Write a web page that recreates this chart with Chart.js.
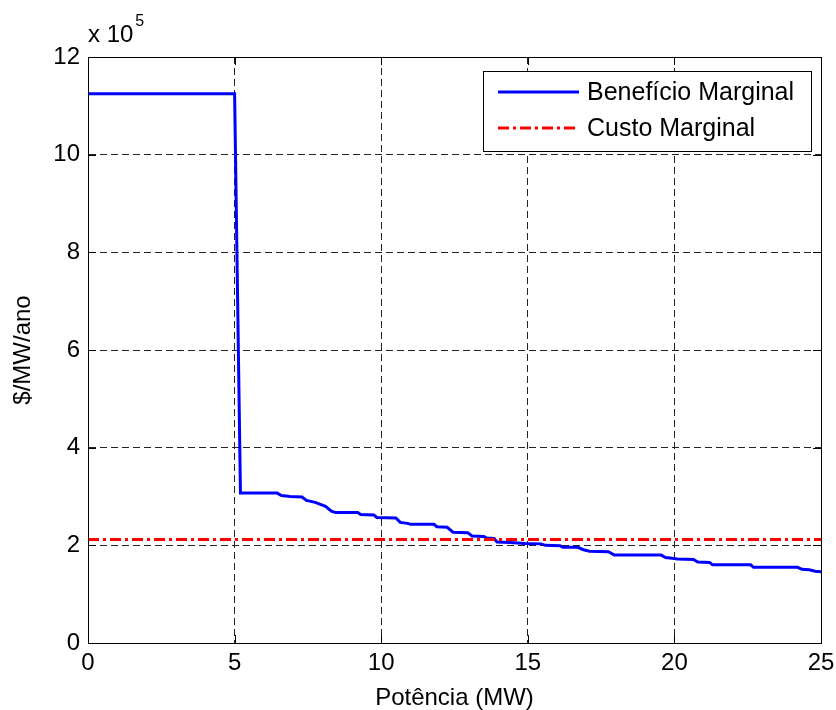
<!DOCTYPE html>
<html>
<head>
<meta charset="utf-8">
<title>Benefício x Custo Marginal</title>
<script src="https://cdn.jsdelivr.net/npm/chart.js@4/dist/chart.umd.min.js"></script>
<style>
  html, body { margin: 0; padding: 0; background: #fff; }
  #wrap { width: 836px; height: 710px; position: relative; }
</style>
</head>
<body>
<div id="wrap"><canvas id="mcChart" width="836" height="710"></canvas></div>
<script>
/* ── Data (y in units of 10^5 $/MW/ano) ── */
const potenciaMW = [
  0, 5.0, 5.2, 6.45, 6.6, 6.9, 7.3, 7.45, 7.75, 8.1, 8.3, 8.45, 9.2, 9.3, 9.75,
  9.85, 10.5, 10.65, 10.9, 11.0, 11.8, 11.9, 12.25, 12.45, 12.95, 13.1, 13.5,
  13.6, 13.85, 13.95, 14.4, 14.9, 15.45, 15.6, 16.1, 16.2, 16.7, 16.9, 17.1,
  17.75, 17.95, 19.55, 19.7, 20.0, 20.1, 20.65, 20.8, 21.2, 21.3, 22.6, 22.7,
  24.2, 24.35, 24.6, 24.8, 25
];
const beneficio = [
  11.25, 11.25, 3.07, 3.07, 3.02, 3.0, 2.99, 2.92, 2.88, 2.8, 2.7, 2.67, 2.67, 2.63, 2.62,
  2.57, 2.56, 2.47, 2.45, 2.43, 2.43, 2.38, 2.37, 2.27, 2.26, 2.19, 2.18,
  2.15, 2.14, 2.07, 2.06, 2.04, 2.03, 2.0, 1.99, 1.96, 1.96, 1.91, 1.88,
  1.87, 1.80, 1.80, 1.75, 1.73, 1.72, 1.71, 1.66, 1.65, 1.60, 1.60, 1.55,
  1.55, 1.51, 1.50, 1.47, 1.46
];
const custoX = [0, 25];
const custo  = [2.12, 2.12];

const seriesLabels = ['Benefício Marginal', 'Custo Marginal'];
const xTicks = [0, 5, 10, 15, 20, 25];
const yTicks = [0, 2, 4, 6, 8, 10, 12];

const FONT = "'Liberation Sans', Arial, Helvetica, sans-serif";
const BLUE = '#0000ff';
const RED  = '#ff0000';
const RED_DASH = [11, 4, 3, 4];

/* ── Box, inward ticks, exponent label and legend (MATLAB style) ── */
const matlabFrame = {
  id: 'matlabFrame',
  afterDraw(chart) {
    const { ctx, chartArea: a, scales: { x, y } } = chart;
    ctx.save();
    ctx.setLineDash([]);
    ctx.strokeStyle = '#000';
    ctx.lineWidth = 1;

    // inward ticks
    const tl = 8;
    ctx.beginPath();
    xTicks.forEach(v => {
      const px = Math.round(x.getPixelForValue(v)) + 0.5;
      ctx.moveTo(px, a.bottom); ctx.lineTo(px, a.bottom - tl);
      ctx.moveTo(px, a.top);    ctx.lineTo(px, a.top + tl);
    });
    yTicks.forEach(v => {
      const py = Math.round(y.getPixelForValue(v)) + 0.5;
      ctx.moveTo(a.left, py);  ctx.lineTo(a.left + tl, py);
      ctx.moveTo(a.right, py); ctx.lineTo(a.right - tl, py);
    });
    ctx.stroke();

    // axes box
    ctx.strokeRect(Math.round(a.left) + 0.5, Math.round(a.top) + 0.5,
                   Math.round(a.right - a.left), Math.round(a.bottom - a.top));

    // "x 10^5"
    ctx.fillStyle = '#000';
    ctx.textBaseline = 'alphabetic';
    ctx.textAlign = 'left';
    ctx.font = '24px ' + FONT;
    ctx.fillText('x 10', a.left, 42);
    const w = ctx.measureText('x 10').width;
    ctx.font = '16px ' + FONT;
    ctx.fillText('5', a.left + w + 2, 26);

    // legend
    const lx = 483, ly = 71, lw = 328, lh = 80;
    ctx.fillStyle = '#fff';
    ctx.fillRect(lx, ly, lw, lh);
    ctx.strokeRect(lx + 0.5, ly + 0.5, lw, lh);
    const rows = [
      { label: seriesLabels[0], color: BLUE, dash: [],       y: 92 },
      { label: seriesLabels[1], color: RED,  dash: RED_DASH, y: 128 }
    ];
    rows.forEach(r => {
      ctx.strokeStyle = r.color;
      ctx.lineWidth = 3;
      ctx.setLineDash(r.dash);
      ctx.beginPath();
      ctx.moveTo(498, r.y); ctx.lineTo(579, r.y);
      ctx.stroke();
      ctx.setLineDash([]);
      ctx.fillStyle = '#000';
      ctx.font = '25px ' + FONT;
      ctx.textBaseline = 'middle';
      ctx.fillText(r.label, 587, r.y + 1);
    });
    ctx.restore();
  }
};

new Chart(document.getElementById('mcChart'), {
  type: 'line',
  data: {
    datasets: [
      {
        label: seriesLabels[1],
        data: custoX.map((v, i) => ({ x: v, y: custo[i] })),
        borderColor: RED,
        borderWidth: 3,
        borderDash: RED_DASH,
        pointRadius: 0,
        tension: 0,
        order: 0
      },
      {
        label: seriesLabels[0],
        data: potenciaMW.map((v, i) => ({ x: v, y: beneficio[i] })),
        borderColor: BLUE,
        borderWidth: 3,
        pointRadius: 0,
        tension: 0,
        order: 1
      }
    ]
  },
  options: {
    responsive: false,
    animation: false,
    devicePixelRatio: 1,
    layout: { padding: { left: 0, right: 15, top: 57, bottom: 0 } },
    plugins: { legend: { display: false }, tooltip: { enabled: false } },
    scales: {
      x: {
        type: 'linear',
        min: 0, max: 25,
        afterBuildTicks: s => { s.ticks = xTicks.map(v => ({ value: v })); },
        afterFit: s => { s.height = 67; s.paddingLeft = 0; s.paddingRight = 0; },
        grid: { color: '#222', lineWidth: 1, drawTicks: false },
        border: { display: true, color: '#000', dash: [7, 4] },
        ticks: { color: '#000', padding: 8, font: { family: FONT, size: 24, lineHeight: 1 } },
        title: {
          display: true, text: 'Potência (MW)', color: '#000',
          padding: { top: 0, bottom: 0 },
          font: { family: FONT, size: 24, lineHeight: 1 }
        }
      },
      y: {
        min: 0, max: 12,
        afterBuildTicks: s => { s.ticks = yTicks.map(v => ({ value: v })); },
        afterFit: s => { s.width = 88; s.paddingTop = 0; s.paddingBottom = 0; },
        grid: { color: '#222', lineWidth: 1, drawTicks: false },
        border: { display: true, color: '#000', dash: [7, 4] },
        ticks: { color: '#000', padding: 8, font: { family: FONT, size: 24, lineHeight: 1 } },
        title: {
          display: true, text: '$/MW/ano', color: '#000',
          padding: { top: 11, bottom: 11 },
          font: { family: FONT, size: 24, lineHeight: 1 }
        }
      }
    }
  },
  plugins: [matlabFrame]
});
</script>
</body>
</html>
